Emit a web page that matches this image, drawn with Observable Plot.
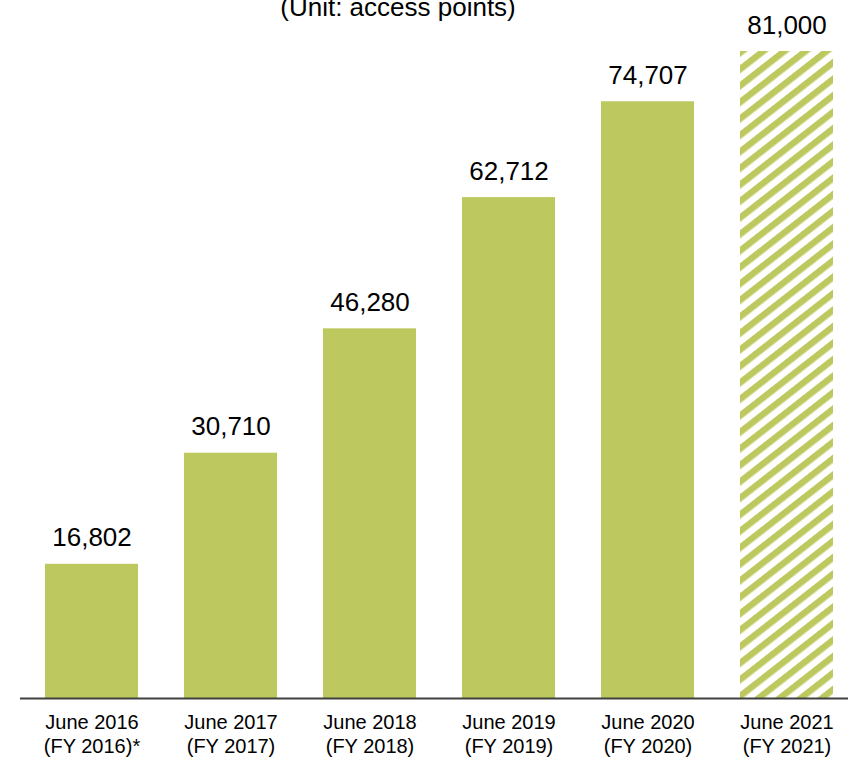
<!DOCTYPE html>
<html>
<head>
<meta charset="utf-8">
<script src="https://cdn.jsdelivr.net/npm/d3@7"></script>
<script src="https://cdn.jsdelivr.net/npm/@observablehq/plot@0.6"></script>
<style>
  html, body { margin: 0; padding: 0; background: #fff; }
  #chart { width: 849px; height: 759px; overflow: hidden; }
</style>
</head>
<body>
<div id="chart"></div>
<script>
const periods = [
  "June 2016\n(FY 2016)*",
  "June 2017\n(FY 2017)",
  "June 2018\n(FY 2018)",
  "June 2019\n(FY 2019)",
  "June 2020\n(FY 2020)",
  "June 2021\n(FY 2021)"
];
const values = [16802, 30710, 46280, 62712, 74707, 81000];
const kinds = ["actual", "actual", "actual", "actual", "actual", "plan"];
const title = "(Unit: access points)";

const data = periods.map((p, i) => ({period: p, value: values[i], kind: kinds[i]}));
const green = "#bdc95f";

const chart = Plot.plot({
  width: 849,
  height: 759,
  marginLeft: 29,
  marginRight: 1,
  marginTop: 51,
  marginBottom: 61,
  style: {fontFamily: "'Liberation Sans', Arial, sans-serif", background: "#fff", overflow: "visible"},
  x: {domain: periods, paddingInner: 0.334, paddingOuter: 0.1, axis: null},
  y: {domain: [0, 81000], axis: null},
  marks: [
    Plot.barY(data.filter(d => d.kind === "actual"), {x: "period", y: "value", fill: green}),
    Plot.barY(data.filter(d => d.kind === "plan"), {x: "period", y: "value", fill: "url(#hatch)"}),
    Plot.ruleY([0], {stroke: "#404040", strokeWidth: 2, insetLeft: -9}),
    Plot.axisX({tickSize: 0, tickPadding: 13, fontSize: 20, lineHeight: 1.2, fill: "#000", label: null}),
    Plot.text(data, {x: "period", y: "value", text: d => d3.format(",")(d.value), dy: -18, lineAnchor: "bottom", fontSize: 26, fill: "#000"}),
    Plot.text([title], {frameAnchor: "top", text: d => d, dx: -41, dy: -36, lineAnchor: "bottom", fontSize: 26, fill: "#000"})
  ]
});

const svg = d3.select(chart);
svg.insert("defs", ":first-child").html(
  `<pattern id="hatch" patternUnits="userSpaceOnUse" width="13" height="13" patternTransform="rotate(-38)">
     <rect x="0" y="0" width="13" height="13" fill="#fff"></rect>
     <rect x="0" y="0" width="13" height="6.5" fill="${green}"></rect>
   </pattern>`
);

document.getElementById("chart").appendChild(chart);
</script>
</body>
</html>
